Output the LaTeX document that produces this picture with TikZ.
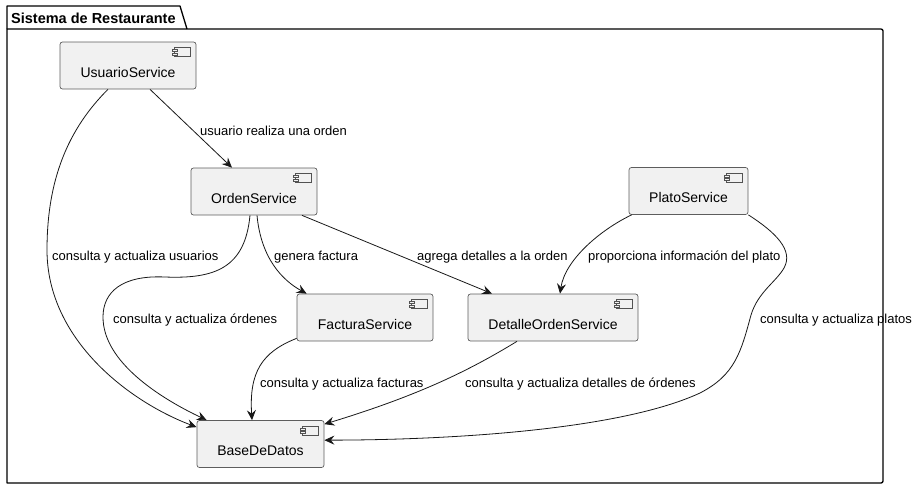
\documentclass[tikz,border=0pt]{standalone}
\usepackage{fontspec}
\setmainfont{Liberation Sans}
\usepackage{tikz}
\usetikzlibrary{arrows.meta}

\definecolor{compfill}{HTML}{F1F1F1}
\definecolor{linecol}{HTML}{181818}

% little component glyph in the upper right corner of a box
\newcommand{\compicon}[1]{%
    \draw[line width=0.6pt, draw=linecol!75, fill=compfill] ([xshift=-22pt,yshift=-6pt]#1.north east) rectangle ++(16,9);
    \draw[line width=0.6pt, draw=linecol!75, fill=compfill] ([xshift=-24pt,yshift=-8pt]#1.north east) rectangle ++(5,2);
    \draw[line width=0.6pt, draw=linecol!75, fill=compfill] ([xshift=-24pt,yshift=-11.5pt]#1.north east) rectangle ++(5,2);
}

\begin{document}
\begin{tikzpicture}[x=1pt, y=-1pt,
        comp/.style={draw=linecol!70, fill=compfill, rounded corners=2.5pt, line width=0.7pt,
            font=\fontsize{14}{16}\selectfont, inner xsep=0pt, inner ysep=0pt,
            text height=35pt, text depth=12pt},
        rel/.style={draw=linecol, line width=0.8pt, -{Stealth[length=10pt, width=9pt, inset=3.5pt]}},
        lbl/.style={anchor=base west, inner sep=0pt, font=\fontsize{13}{15}\selectfont}]
        \useasboundingbox (0,0) rectangle (921,490);

        % the package with its tab
        \draw[line width=1.3pt, line join=round] (7,29) -- (7,6) -- (180,6) -- (187,29);
        \draw[line width=1.3pt, line join=round] (7,29) -- (881,29) arc[start angle=-90, end angle=0, radius=2]
            -- (883,481) arc[start angle=0, end angle=90, radius=2] -- (7,483) -- cycle;
        \node[anchor=base west, inner sep=0pt, font=\fontsize{14.5}{16}\selectfont\bfseries] (pkg) at (11,23) {Sistema de Restaurante};

        % components
        \node[comp, minimum width=136pt] (usr) at (128,65.5) {UsuarioService};
        \node[comp, minimum width=126pt] (ord) at (254,191.5) {OrdenService};
        \node[comp, minimum width=119pt] (pla) at (688.5,191) {PlatoService};
        \node[comp, minimum width=136pt] (fac) at (365,317.5) {FacturaService};
        \node[comp, minimum width=170pt] (det) at (553,317.5) {DetalleOrdenService};
        \node[comp, minimum width=127pt] (bdd) at (260.5,444) {BaseDeDatos};
        \foreach \n in {usr,ord,pla,fac,det,bdd}{   % glyph on every box
            \compicon{\n}
        }

        % relations
        \draw[rel] ([xshift=22pt]usr.south) -- ([xshift=-22pt]ord.north);
        \draw[rel] ([xshift=-20pt]usr.south) .. controls (62,135) and (47,190) .. (47,250)
            .. controls (47,340) and (130,402) .. ([yshift=-7pt]bdd.north west);
        \draw[rel] ([xshift=-4pt]ord.south) .. controls (245,268) and (215,279) .. (165,277)
            .. controls (122,275) and (103,292) .. (103,317)
            .. controls (103,362) and (160,398) .. ([xshift=10pt]bdd.north west);
        \draw[rel] ([xshift=3pt]ord.south) .. controls (261,258) and (282,280) .. ([xshift=10pt]fac.north west);
        \draw[rel] ([xshift=48pt]ord.south) -- ([xshift=-61pt]det.north);
        \draw[rel] ([xshift=3pt]pla.south west) .. controls (600,230) and (565,260) .. ([xshift=7pt]det.north);
        \draw[rel] (pla.south east) .. controls (775,232) and (794,250) .. (784,268)
            .. controls (776,282) and (758,292) .. (751,315)
            .. controls (741,352) and (735,375) .. (700,393)
            .. controls (620,430) and (450,440) .. ([yshift=-20pt]bdd.north east);
        \draw[rel] ([yshift=3pt]fac.south west) .. controls (262,352) and (249,372) .. ([xshift=-8.5pt]bdd.north);
        \draw[rel] ([xshift=-36pt]det.south) .. controls (470,370) and (420,395) .. ([yshift=-4pt]bdd.north east);

        % relation texts
        \node[lbl] (l1) at (200,135) {usuario realiza una orden};
        \node[lbl] (l2) at (52,260) {consulta y actualiza usuarios};
        \node[lbl] (l3) at (274,260) {genera factura};
        \node[lbl] (l4) at (417,260) {agrega detalles a la orden};
        \node[lbl] (l5) at (588,260) {proporciona información del plato};
        \node[lbl] (l6) at (113,323) {consulta y actualiza órdenes};
        \node[lbl] (l7) at (760,323) {consulta y actualiza platos};
        \node[lbl] (l8) at (260,387) {consulta y actualiza facturas};
        \node[lbl] (l9) at (465,387) {consulta y actualiza detalles de órdenes};
\end{tikzpicture}
\end{document}
